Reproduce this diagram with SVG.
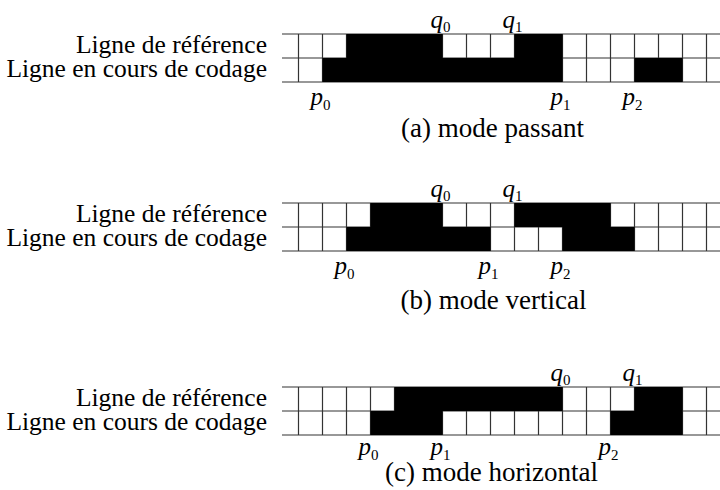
<svg xmlns="http://www.w3.org/2000/svg" width="720" height="490" viewBox="0 0 720 490">
<style>
.bg{fill:#ffffff}
.grid{fill:none;stroke:#333333;stroke-width:1.2}
.blk{fill:#000000}
.lbl{font-family:"Liberation Serif","Times New Roman",serif;font-size:25.5px;fill:#000;text-anchor:end}
.cap{font-family:"Liberation Serif","Times New Roman",serif;font-size:27px;fill:#000;text-anchor:middle}
.m{font-family:"Liberation Serif","Times New Roman",serif;font-size:25px;font-style:italic;fill:#000}
.s{font-size:15px;font-style:normal}
</style>
<rect class="bg" x="0" y="0" width="720" height="490"/>

<g id="panel-a">
  <path class="grid" d="M282 34H720M282 58H720M282 82H720M298.5 34V82M322.5 34V82M346.5 34V82M370.5 34V82M394.5 34V82M418.5 34V82M442.5 34V82M466.5 34V82M490.5 34V82M514.5 34V82M538.5 34V82M562.5 34V82M586.5 34V82M610.5 34V82M634.5 34V82M658.5 34V82M682.5 34V82M706.5 34V82"/>
  <rect class="blk" x="346.5" y="34" width="96" height="24"/>
  <rect class="blk" x="514.5" y="34" width="48" height="24"/>
  <rect class="blk" x="322.5" y="58" width="240" height="24"/>
  <rect class="blk" x="634.5" y="58" width="48" height="24"/>
  <text class="lbl" x="267" y="53">Ligne de référence</text>
  <text class="lbl" x="267" y="77">Ligne en cours de codage</text>
  <text class="m" x="430.5" y="28">q<tspan class="s" dy="4">0</tspan></text>
  <text class="m" x="502.5" y="28">q<tspan class="s" dy="4">1</tspan></text>
  <text class="m" x="310.5" y="105">p<tspan class="s" dy="5">0</tspan></text>
  <text class="m" x="550.5" y="105">p<tspan class="s" dy="5">1</tspan></text>
  <text class="m" x="622.5" y="105">p<tspan class="s" dy="5">2</tspan></text>
  <text class="cap" x="492.5" y="137">(a) mode passant</text>
</g>

<g id="panel-b">
  <path class="grid" d="M282 203H720M282 227H720M282 251H720M298.5 203V251M322.5 203V251M346.5 203V251M370.5 203V251M394.5 203V251M418.5 203V251M442.5 203V251M466.5 203V251M490.5 203V251M514.5 203V251M538.5 203V251M562.5 203V251M586.5 203V251M610.5 203V251M634.5 203V251M658.5 203V251M682.5 203V251M706.5 203V251"/>
  <rect class="blk" x="370.5" y="203" width="72" height="24"/>
  <rect class="blk" x="514.5" y="203" width="96" height="24"/>
  <rect class="blk" x="346.5" y="227" width="144" height="24"/>
  <rect class="blk" x="562.5" y="227" width="72" height="24"/>
  <text class="lbl" x="267" y="222">Ligne de référence</text>
  <text class="lbl" x="267" y="246">Ligne en cours de codage</text>
  <text class="m" x="430.5" y="197">q<tspan class="s" dy="4">0</tspan></text>
  <text class="m" x="502.5" y="197">q<tspan class="s" dy="4">1</tspan></text>
  <text class="m" x="334.5" y="274">p<tspan class="s" dy="5">0</tspan></text>
  <text class="m" x="478.5" y="274">p<tspan class="s" dy="5">1</tspan></text>
  <text class="m" x="550.5" y="274">p<tspan class="s" dy="5">2</tspan></text>
  <text class="cap" x="493.5" y="309">(b) mode vertical</text>
</g>

<g id="panel-c">
  <path class="grid" d="M282 387H720M282 411H720M282 435H720M298.5 387V435M322.5 387V435M346.5 387V435M370.5 387V435M394.5 387V435M418.5 387V435M442.5 387V435M466.5 387V435M490.5 387V435M514.5 387V435M538.5 387V435M562.5 387V435M586.5 387V435M610.5 387V435M634.5 387V435M658.5 387V435M682.5 387V435M706.5 387V435"/>
  <rect class="blk" x="394.5" y="387" width="168" height="24"/>
  <rect class="blk" x="634.5" y="387" width="48" height="24"/>
  <rect class="blk" x="370.5" y="411" width="72" height="24"/>
  <rect class="blk" x="610.5" y="411" width="72" height="24"/>
  <text class="lbl" x="267" y="406">Ligne de référence</text>
  <text class="lbl" x="267" y="430">Ligne en cours de codage</text>
  <text class="m" x="550.5" y="381">q<tspan class="s" dy="4">0</tspan></text>
  <text class="m" x="622.5" y="381">q<tspan class="s" dy="4">1</tspan></text>
  <text class="m" x="358.5" y="455">p<tspan class="s" dy="5">0</tspan></text>
  <text class="m" x="430.5" y="455">p<tspan class="s" dy="5">1</tspan></text>
  <text class="m" x="598.5" y="455">p<tspan class="s" dy="5">2</tspan></text>
  <text class="cap" x="491.5" y="481">(c) mode horizontal</text>
</g>
</svg>
